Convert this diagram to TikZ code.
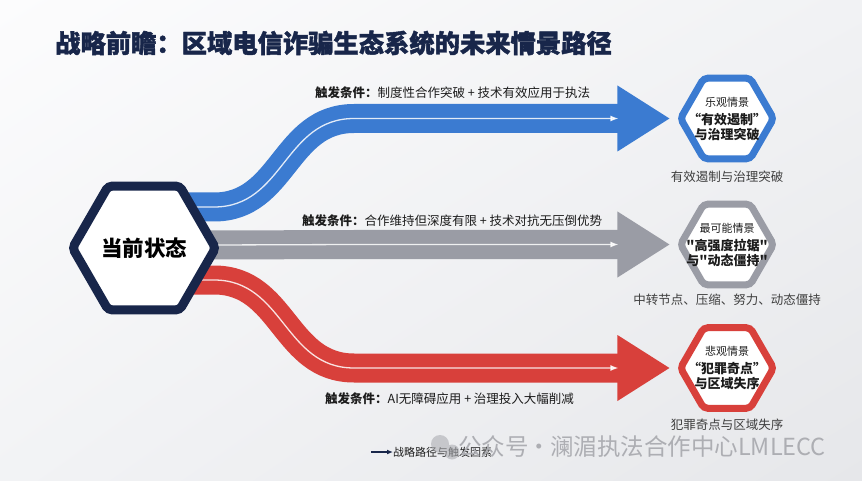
\documentclass[tikz,border=0pt]{standalone}
\usepackage{fontspec}
\setmainfont{Noto Sans CJK SC}
\newfontfamily\titlefont[BoldFeatures={FakeBold=1.6}]{Noto Sans CJK SC}
\usetikzlibrary{shapes.geometric,arrows.meta,shadings}

\definecolor{navy}{HTML}{18264A}
\definecolor{optblue}{HTML}{3B7BD1}
\definecolor{midgray}{HTML}{9A9CA5}
\definecolor{pesred}{HTML}{D8403B}
\definecolor{ink}{HTML}{1C1C1C}
\definecolor{markgray}{HTML}{ADAEB3}
\definecolor{bgul}{HTML}{FCFCFD}
\definecolor{bgur}{HTML}{F1F2F4}
\definecolor{bgll}{HTML}{F2F3F5}
\definecolor{bglr}{HTML}{E6E7EA}

\newcommand{\sq}{{\addfontfeatures{Ligatures=TeXOff}"}}

\pgfdeclarelayer{bg}
\pgfsetlayers{bg,main}

\begin{document}
\begin{tikzpicture}[x=1pt, y=-1pt,
  hexbox/.style={regular polygon, regular polygon sides=6, draw, fill=white, inner sep=0pt, rounded corners=4pt},
  band/.style={line width=29pt},
  trace/.style={white, opacity=0.85, line width=1.3pt, -{Latex[length=8pt,width=6pt]}},
  trig/.style={anchor=west, inner sep=0pt, text=ink, font=\fontsize{12.5}{15}\selectfont},
  scen/.style={align=center, text=ink, font=\fontsize{13}{15}\selectfont\bfseries},
  outcome/.style={text=ink!85, font=\fontsize{12.5}{15}\selectfont}]

  \useasboundingbox (0,0) rectangle (862,481);
  \begin{pgfonlayer}{bg}
    \shade[upper left=bgul, upper right=bgur, lower left=bgll, lower right=bglr] (0,0) rectangle (862,481);
  \end{pgfonlayer}

  % Title
  \node[anchor=west, inner sep=0pt, text=navy, font=\fontsize{25.3}{30}\titlefont\bfseries] (title) at (55,43)
    {战略前瞻：区域电信诈骗生态系统的未来情景路径};

  % Current state, left
  \node[hexbox, draw=navy, line width=9pt, minimum size=143pt] (now) at (144,248) {};
  \node[font=\fontsize{21.5}{24}\selectfont\bfseries, text=black] (nowlbl) at (now) {当前状态};

  % Scenarios, right (optimistic / most likely / pessimistic)
  \node[hexbox, draw=optblue, line width=7pt, minimum size=93pt] (opt) at (727,118.5) {};
  \node[hexbox, draw=midgray, line width=7pt, minimum size=93pt] (mid) at (727,244.5) {};
  \node[hexbox, draw=pesred, line width=7pt, minimum size=93pt] (pes) at (727,368) {};

  \node[scen] (optlbl) at (opt) {{\mdseries\fontsize{11}{13}\selectfont 乐观情景}\\[3pt]“有效遏制”\\与治理突破};
  \node[scen] (midlbl) at (mid) {{\mdseries\fontsize{11}{13}\selectfont 最可能情景}\\[3pt]\sq 高强度拉锯\sq\\与\sq 动态僵持\sq};
  \node[scen] (peslbl) at (pes) {{\mdseries\fontsize{11}{13}\selectfont 悲观情景}\\[3pt]“犯罪奇点”\\与区域失序};

  \node[outcome] (optout) at (727,177) {有效遏制与治理突破};
  \node[outcome] (midout) at (727,300) {中转节点、压缩、努力、动态僵持};
  \node[outcome] (pesout) at (727,425) {犯罪奇点与区域失序};

  % Paths from the current state to each scenario
  \begin{pgfonlayer}{bg}
  \foreach \hex/\col/\dy in {opt/optblue/41, mid/midgray/3, pes/pesred/-32} {
    \draw[band, \col] ([xshift=45pt,yshift=\dy pt]now.center) -- ++(25,0)
      .. controls +(70,0) and +(-70,0) .. (\hex.west -| 354,0) -- ([xshift=-57pt]\hex.west);
    \fill[\col] ([xshift=-7pt]\hex.west) -- ++(-52,-33) -- ++(0,66) -- cycle;
    \draw[trace] ([xshift=45pt,yshift=\dy pt]now.center) -- ++(25,0)
      .. controls +(70,0) and +(-70,0) .. (\hex.west -| 354,0) -- ([xshift=-58pt]\hex.west);
  }
  \end{pgfonlayer}

  % Trigger conditions
  \node[trig] (trigopt) at (315,93) {\textbf{触发条件：}制度性合作突破 + 技术有效应用于执法};
  \node[trig] (trigmid) at (302,221) {\textbf{触发条件：}合作维持但深度有限 + 技术对抗无压倒优势};
  \node[trig] (trigpes) at (325,399) {\textbf{触发条件：}AI无障碍应用 + 治理投入大幅削减};

  % Legend
  \coordinate (legtail) at (371,452);
  \node[anchor=west, inner sep=0pt, text=ink, font=\fontsize{11}{13}\selectfont] (legend) at (393,452) {战略路径与触发因素};
  \draw[navy, line width=1.3pt, -{Latex[length=6pt,width=5pt]}] (legtail) -- (legend.west);

  % Watermark
  \fill[markgray, opacity=0.6] (440,444) circle (9) (452,452) circle (7.5);
  \node[anchor=west, inner sep=0pt, text=markgray, font=\fontsize{23.5}{26}\selectfont] (mark) at (458,447)
    {公众号\hspace{-1pt}·\hspace{-1pt}澜湄执法合作中心LMLECC};

\end{tikzpicture}
\end{document}
